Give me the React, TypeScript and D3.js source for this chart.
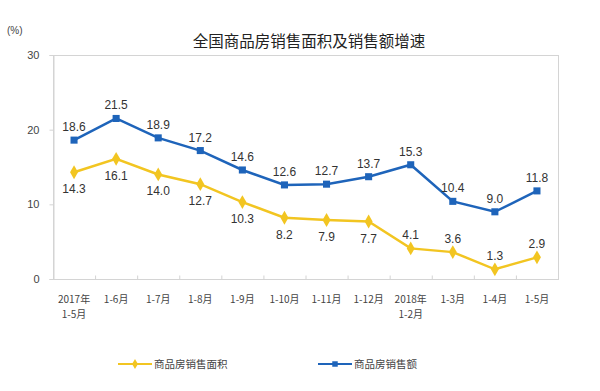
import React, { useEffect, useRef } from "react";
import * as d3 from "d3";

const categories = [
  ["2017年", "1-5月"],
  ["1-6月"],
  ["1-7月"],
  ["1-8月"],
  ["1-9月"],
  ["1-10月"],
  ["1-11月"],
  ["1-12月"],
  ["2018年", "1-2月"],
  ["1-3月"],
  ["1-4月"],
  ["1-5月"],
];
const areaGrowth = [14.3, 16.1, 14.0, 12.7, 10.3, 8.2, 7.9, 7.7, 4.1, 3.6, 1.3, 2.9];
const salesGrowth = [18.6, 21.5, 18.9, 17.2, 14.6, 12.6, 12.7, 13.7, 15.3, 10.4, 9.0, 11.8];
// label above (-1) or below (+1) the point
const areaLabelSide = [1, 1, 1, 1, 1, 1, 1, 1, -1, -1, -1, -1];
const yTicks = [0, 10, 20, 30];
const seriesNames = ["商品房销售面积", "商品房销售额"];

const YELLOW = "#F2C521";
const BLUE = "#1E64BA";
const FONT = "'Liberation Sans', Arial, 'Noto Sans CJK SC', sans-serif";

export default function App() {
  const ref = useRef<SVGSVGElement>(null);

  useEffect(() => {
    const svg = d3.select(ref.current);
    svg.selectAll("*").remove();
    const margin = { top: 55, left: 53, right: 42, bottom: 112 };
    const W = 600, H = 391;
    const x = d3
      .scaleBand<number>()
      .domain(d3.range(categories.length))
      .range([margin.left, W - margin.right]);
    const y = d3.scaleLinear().domain([0, 30]).range([H - margin.bottom, margin.top]);
    const cx = (i: number) => (x(i) as number) + x.bandwidth() / 2;

    svg.append("rect").attr("width", W).attr("height", H).attr("fill", "#fff");

    // title
    svg
      .append("text")
      .attr("x", 309)
      .attr("y", 47)
      .attr("text-anchor", "middle")
      .style("font-family", "'Noto Sans CJK SC', sans-serif")
      .style("font-size", "15.5px")
      .attr("fill", "#222")
      .text("全国商品房销售面积及销售额增速");

    svg
      .append("text")
      .attr("x", 7)
      .attr("y", 34)
      .style("font-family", FONT)
      .style("font-size", "10px")
      .attr("fill", "#444")
      .text("(%)");

    // plot border
    svg
      .append("rect")
      .attr("x", margin.left + 0.5)
      .attr("y", margin.top + 0.5)
      .attr("width", W - margin.left - margin.right)
      .attr("height", H - margin.top - margin.bottom)
      .attr("fill", "none")
      .attr("stroke", "#d4d4d4");

    // y axis
    const yAxis = svg
      .append("g")
      .attr("transform", `translate(${margin.left + 0.5},0)`)
      .call(d3.axisLeft(y).tickValues(yTicks).tickSize(4).tickPadding(10));
    yAxis.select(".domain").attr("stroke", "#d4d4d4");
    yAxis.selectAll("line").attr("stroke", "#d4d4d4");
    yAxis
      .selectAll("text")
      .style("font-family", FONT)
      .style("font-size", "11px")
      .attr("fill", "#444");

    // x axis
    const xb = svg.append("g").attr("transform", `translate(0,${y(0) + 0.5})`);
    xb.selectAll("line")
      .data(d3.range(categories.length + 1))
      .enter()
      .append("line")
      .attr("x1", (i) => (i < categories.length ? (x(i) as number) : W - margin.right) + 0.5)
      .attr("x2", (i) => (i < categories.length ? (x(i) as number) : W - margin.right) + 0.5)
      .attr("y1", 0)
      .attr("y2", -4)
      .attr("stroke", "#d4d4d4");
    const xl = xb
      .selectAll("text")
      .data(categories)
      .enter()
      .append("text")
      .attr("x", (d, i) => cx(i))
      .attr("y", 23)
      .attr("text-anchor", "middle")
      .style("font-family", "'Noto Sans CJK SC', sans-serif")
      .style("font-size", "10px")
      .attr("fill", "#444");
    xl.selectAll("tspan")
      .data((d) => d)
      .enter()
      .append("tspan")
      .attr("x", function () {
        return d3.select((this as any).parentNode).attr("x");
      })
      .attr("dy", (d, i) => (i === 0 ? 0 : 15))
      .text((d) => d);

    const line = d3
      .line<number>()
      .x((d, i) => cx(i))
      .y((d) => y(d));

    // series
    const series = [
      { data: areaGrowth, color: YELLOW, shape: d3.symbolDiamond },
      { data: salesGrowth, color: BLUE, shape: d3.symbolSquare },
    ];
    series.forEach((s) => {
      svg
        .append("path")
        .datum(s.data)
        .attr("d", line)
        .attr("fill", "none")
        .attr("stroke", s.color)
        .attr("stroke-width", 2.5);
      svg
        .selectAll(null)
        .data(s.data)
        .enter()
        .append("path")
        .attr("transform", (d, i) => `translate(${cx(i)},${y(d)})`)
        .attr("d", d3.symbol().type(s.shape).size(s.shape === d3.symbolSquare ? 50 : 55)())
        .attr("fill", s.color);
    });

    // labels
    const label = (data: number[], side: (i: number) => number) =>
      svg
        .selectAll(null)
        .data(data)
        .enter()
        .append("text")
        .attr("x", (d, i) => cx(i))
        .attr("y", (d, i) => y(d) + (side(i) > 0 ? 21 : -9))
        .attr("text-anchor", "middle")
        .style("font-family", FONT)
        .style("font-size", "12px")
        .attr("fill", "#333")
        .text((d) => d.toFixed(1));
    label(salesGrowth, () => -1);
    label(areaGrowth, (i) => areaLabelSide[i]);

    // legend
    const legend = [
      { x: 118, color: YELLOW, shape: d3.symbolDiamond, name: seriesNames[0] },
      { x: 318, color: BLUE, shape: d3.symbolSquare, name: seriesNames[1] },
    ];
    legend.forEach((l) => {
      const g = svg.append("g").attr("transform", `translate(${l.x},364)`);
      g.append("line").attr("x1", 0).attr("x2", 34).attr("stroke", l.color).attr("stroke-width", 2);
      g.append("path")
        .attr("transform", "translate(17,0)")
        .attr("d", d3.symbol().type(l.shape).size(30)())
        .attr("fill", l.color);
      g.append("text")
        .attr("x", 36)
        .attr("y", 4)
        .style("font-family", "'Noto Sans CJK SC', sans-serif")
        .style("font-size", "10.5px")
        .attr("fill", "#444")
        .text(l.name);
    });
  }, []);

  return (
    <svg
      ref={ref}
      width={600}
      height={391}
      style={{ position: "absolute", left: 0, top: 0, display: "block" }}
    />
  );
}
